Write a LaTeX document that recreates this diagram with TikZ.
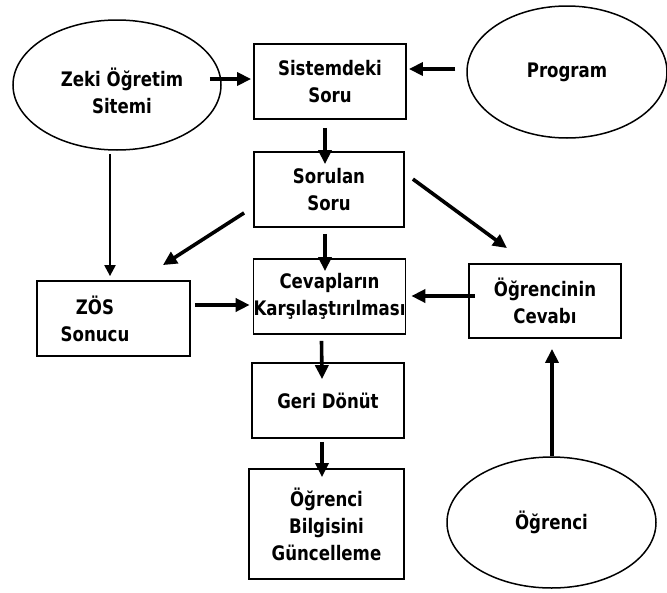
\documentclass[tikz,border=0pt]{standalone}
\usepackage{fontspec}
\setmainfont{DejaVu Sans}[FakeStretch=0.83]
\usetikzlibrary{arrows.meta,calc,shapes.geometric}

\tikzset{
  lbl/.style={font=\bfseries\fontsize{20}{27}\selectfont, align=center, text=black},
  box/.style={lbl, draw, line width=1.8pt, inner sep=0pt},
  oval/.style={lbl, draw, ellipse, line width=1.5pt, inner sep=0pt},
  arr/.style={line width=3.6pt, -{Triangle[length=14pt,width=13pt]}},
  thinarr/.style={line width=2.2pt, -{Triangle[length=11pt,width=11pt]}}
}

\begin{document}
\begin{tikzpicture}[x=1pt, y=-1pt]
  \useasboundingbox (0,0) rectangle (667,592);

  % ovals
  \node[oval, minimum width=208pt, minimum height=130pt] (zeki) at (117,85) {};
  \node[lbl] (zekitxt) at (122,91) {Zeki Öğretim\\Sitemi};
  \node[oval, minimum width=200pt, minimum height=132pt] (prog) at (567,72) {Program};
  \node[oval, minimum width=209pt, minimum height=131pt] (ogr) at (551.5,522.5) {Öğrenci};

  % boxes
  \node[box, minimum width=152pt, minimum height=75pt] (sis) at (330,81.5) {Sistemdeki\\Soru};
  \node[box, minimum width=150pt, minimum height=75pt] (sor) at (329,189.5) {Sorulan\\Soru};
  \node[box, minimum width=151pt, minimum height=75pt] (cev) at (329.5,296.5) {Cevapların\\Karşılaştırılması};
  \node[box, minimum width=153pt, minimum height=75pt] (zos) at (113.5,318.5) {};
  \node[lbl] (zostxt) at (95,319) {ZÖS\\Sonucu};
  \node[box, minimum width=152pt, minimum height=74pt] (ocev) at (545,301) {Öğrencinin\\Cevabı};
  \node[box, minimum width=152pt, minimum height=75pt] (geri) at (328,400.5) {Geri Dönüt};
  \node[box, minimum width=155pt, minimum height=110pt] (bilgi) at (326.5,524) {Öğrenci\\Bilgisini\\Güncelleme};

  % connectors
  \draw[arr] ($(zeki.east)+(-12,-6)$) -- ($(sis.west)+(-2,-2.5)$);
  \draw[arr] ($(prog.west)+(-11,-3)$) -- ($(sis.east)+(2,-12.5)$);
  \draw[arr] ($(sis.south)+(-5,8)$) -- ($(sor.north)+(-4,13)$);
  \draw[thinarr] ($(zeki.south)+(-7,3)$) -- ($(zos.north)+(-3.5,-4)$);
  \draw[arr] ($(sor.south west)+(-9,-15)$) -- ($(zos.north east)+(-28,-15)$);
  \draw[arr] ($(sor.south)+(-4,6)$) -- ($(cev.north)+(-4.5,13)$);
  \draw[arr] ($(sor.north east)+(8,28)$) -- ($(ocev.north)+(-38,-15)$);
  \draw[arr] ($(zos.east)+(4,-13.5)$) -- ($(cev.west)+(-3,8.5)$);
  \draw[arr] ($(ocev.west)+(7,-5)$) -- ($(cev.east)+(5,-0.5)$);
  \draw[arr] ($(cev.south)+(-8,6)$) -- ($(geri.north)+(-6,17)$);
  \draw[arr] ($(geri.south)+(-6,3)$) -- ($(bilgi.north)+(-4.5,9)$);
  \draw[arr] ($(ogr.north)+(0.5,0)$) -- ($(ocev.south)+(7,10)$);
\end{tikzpicture}
\end{document}
